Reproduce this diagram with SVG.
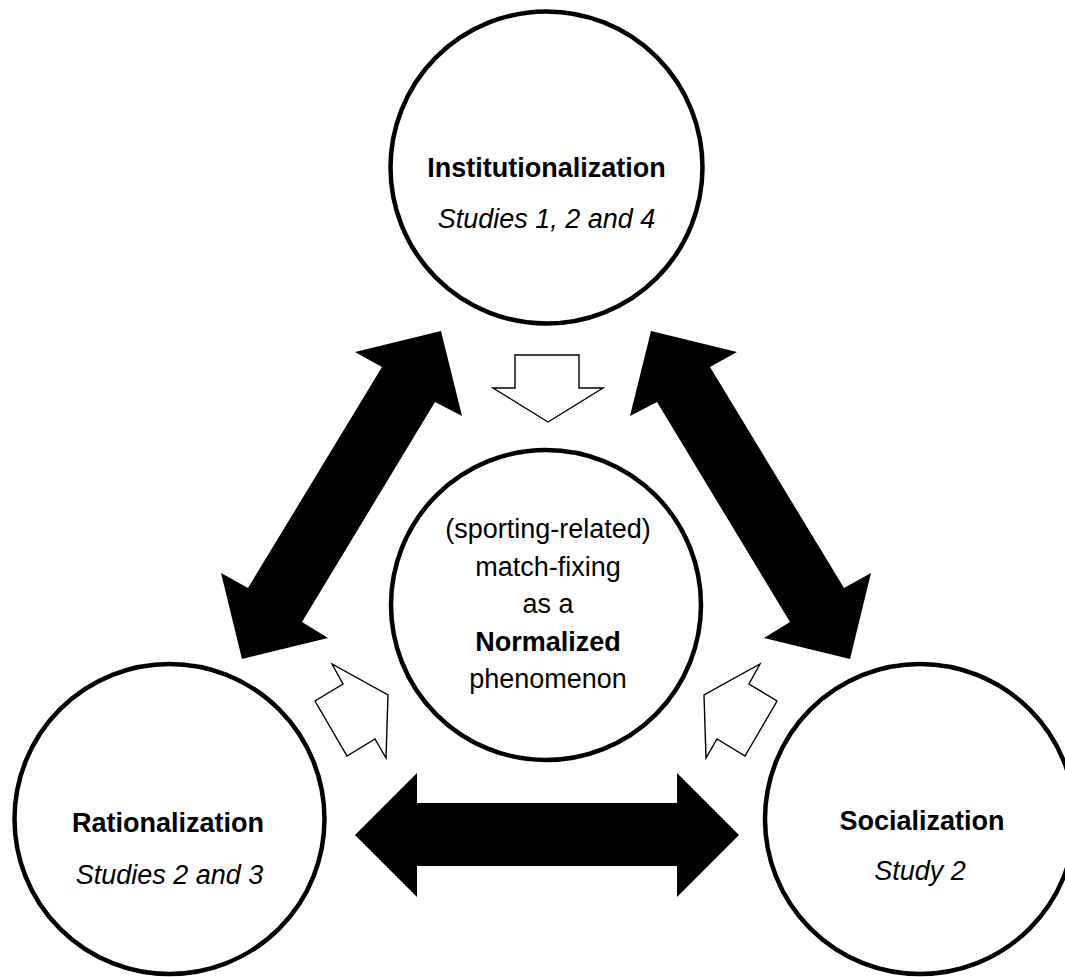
<svg xmlns="http://www.w3.org/2000/svg" width="1065" height="977" viewBox="0 0 1065 977">
<style>
.node{fill:#fff;stroke:#000;stroke-width:4.5}
.t{font-family:"Liberation Sans",Arial,sans-serif;font-size:27px;text-anchor:middle;fill:#000}
.b{font-weight:bold}
.i{font-style:italic}
.solid{fill:#000;stroke:none}
.hollow{fill:#fff;stroke:#000;stroke-width:1.4;stroke-linejoin:miter}
</style>
<rect width="1065" height="977" fill="#fff"/>
<g id="connectors">
<polygon class="solid" points="441,331 462,416 435,402 302,622 328,638 242,659 221,573 248,588 382,367 355,352"/>
<polygon class="solid" points="651,331 630,416 657,402 790,622 764,638 850,659 871,573 844,588 710,367 737,352"/>
<polygon class="solid" points="355,835 417,773 417,803 677,803 677,773 739,835 677,897 677,866 417,866 417,897"/>
<polygon class="hollow" points="515,355 579,355 579,388 603,388 548,422 493,388 515,388"/>
<polygon class="hollow" points="332,664 343,684 315,701 347,756 375,739 386,758 388,695"/>
<polygon class="hollow" points="760,664 749,684 777,701 745,756 717,739 706,758 704,695"/>
</g>
<g id="node-institutionalization">
<circle class="node" cx="546.5" cy="167.5" r="156"/>
<text class="t b" x="546.5" y="177">Institutionalization</text>
<text class="t i" x="546.5" y="228">Studies 1, 2 and 4</text>
</g>
<g id="node-center">
<circle class="node" cx="546" cy="605" r="155"/>
<text class="t" x="548" y="538">(sporting-related)</text>
<text class="t" x="548" y="575.5">match-fixing</text>
<text class="t" x="548" y="613">as a</text>
<text class="t b" x="548" y="650.5">Normalized</text>
<text class="t" x="548" y="688">phenomenon</text>
</g>
<g id="node-rationalization">
<circle class="node" cx="169.5" cy="819" r="155"/>
<text class="t b" x="168" y="832">Rationalization</text>
<text class="t i" x="169.5" y="884">Studies 2 and 3</text>
</g>
<g id="node-socialization">
<circle class="node" cx="920" cy="819" r="155"/>
<text class="t b" x="922" y="830">Socialization</text>
<text class="t i" x="920" y="880">Study 2</text>
</g>
</svg>
